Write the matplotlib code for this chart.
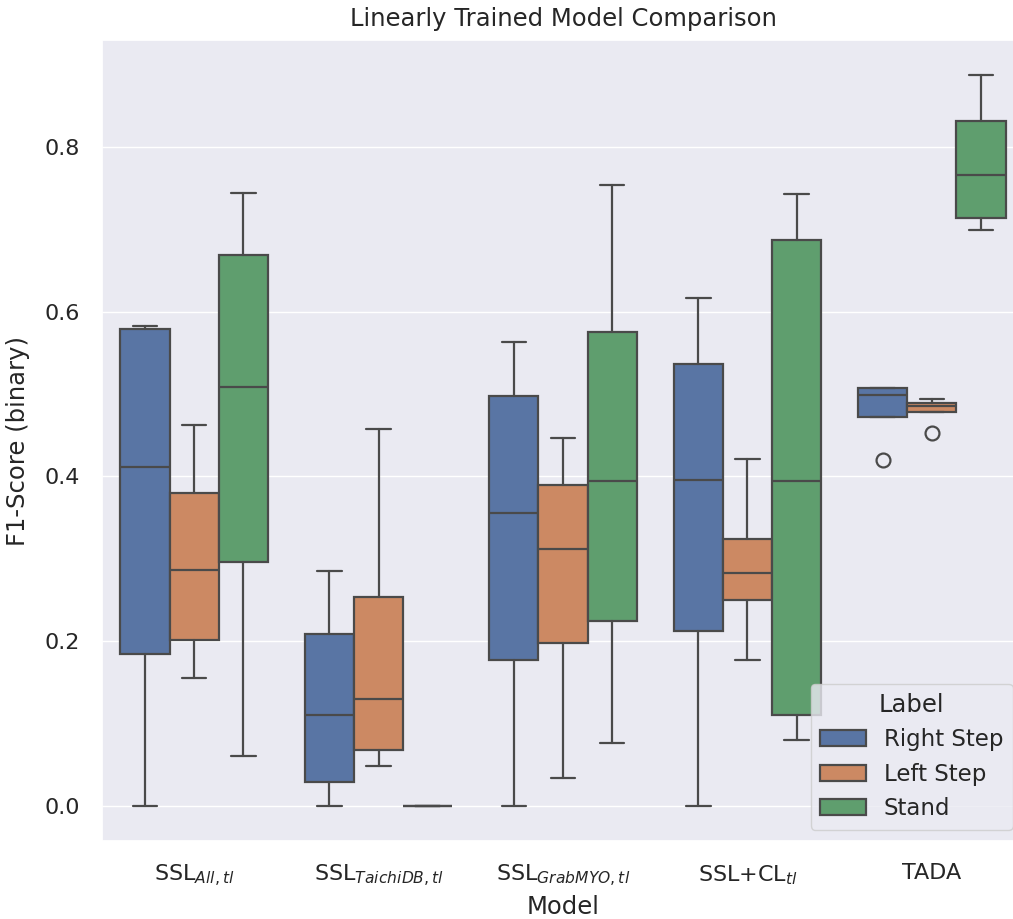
import matplotlib
matplotlib.use("Agg")
import matplotlib.pyplot as plt
import seaborn as sns
from matplotlib.patches import Patch

sns.set_theme(style="darkgrid")
plt.rcParams["font.family"] = ["DejaVu Sans"]

models = [r"SSL$_{All,tl}$", r"SSL$_{TaichiDB,tl}$", r"SSL$_{GrabMYO,tl}$",
          r"SSL+CL$_{tl}$", "TADA"]
labels = ["Right Step", "Left Step", "Stand"]

# Five-number summaries per model, one list per label
right_whislo = [0.000, 0.000, 0.000, 0.000, 0.4725]
right_q1     = [0.184, 0.029, 0.177, 0.212, 0.4725]
right_med    = [0.412, 0.111, 0.356, 0.396, 0.4988]
right_q3     = [0.579, 0.209, 0.498, 0.536, 0.5069]
right_whishi = [0.582, 0.285, 0.563, 0.617, 0.5069]
right_fliers = [[], [], [], [], [0.420]]

left_whislo = [0.155, 0.049, 0.034, 0.177, 0.4778]
left_q1     = [0.202, 0.068, 0.198, 0.250, 0.4778]
left_med    = [0.286, 0.130, 0.312, 0.283, 0.4850]
left_q3     = [0.380, 0.254, 0.390, 0.324, 0.4887]
left_whishi = [0.462, 0.458, 0.446, 0.421, 0.4939]
left_fliers = [[], [], [], [], [0.453]]

stand_whislo = [0.061, 0.0, 0.076, 0.080, 0.699]
stand_q1     = [0.296, 0.0, 0.225, 0.110, 0.714]
stand_med    = [0.509, 0.0, 0.395, 0.394, 0.766]
stand_q3     = [0.669, 0.0, 0.575, 0.687, 0.831]
stand_whishi = [0.744, 0.0, 0.754, 0.743, 0.887]
stand_fliers = [[], [], [], [], []]

series = [
    (right_whislo, right_q1, right_med, right_q3, right_whishi, right_fliers),
    (left_whislo, left_q1, left_med, left_q3, left_whishi, left_fliers),
    (stand_whislo, stand_q1, stand_med, stand_q3, stand_whishi, stand_fliers),
]

palette = [sns.desaturate(c, 0.75) for c in sns.color_palette("deep", 3)]
line_color = "#4a4a4a"
lw = 1.6

W, H = 1013, 919
fig = plt.figure(figsize=(W / 100, H / 100), dpi=100)
left_px, right_px, top_px, bottom_px = 102, 1024, 40, 841
ax = fig.add_axes([left_px / W, 1 - bottom_px / H,
                   (right_px - left_px) / W, (bottom_px - top_px) / H])

box_w = 0.8 / 3
for j, (wlo, q1, med, q3, whi, fl) in enumerate(series):
    stats = []
    for i in range(len(models)):
        stats.append(dict(whislo=wlo[i], q1=q1[i], med=med[i], q3=q3[i],
                          whishi=whi[i], fliers=fl[i]))
    positions = [i + (j - 1) * box_w for i in range(len(models))]
    ax.bxp(stats, positions=positions, widths=box_w, patch_artist=True,
           showfliers=True, capwidths=box_w / 2,
           boxprops=dict(facecolor=palette[j], edgecolor=line_color, linewidth=lw),
           medianprops=dict(color=line_color, linewidth=lw),
           whiskerprops=dict(color=line_color, linewidth=lw),
           capprops=dict(color=line_color, linewidth=lw),
           flierprops=dict(marker="o", markerfacecolor="none",
                           markeredgecolor=line_color, markersize=10,
                           markeredgewidth=lw))

ax.set_xlim(-0.5, len(models) - 0.5)
ax.set_ylim((806 - bottom_px) / 824, (806 - top_px) / 824)
ax.set_xticks(range(len(models)))
ax.set_xticklabels(models, fontsize=16)
ax.set_yticks([0.0, 0.2, 0.4, 0.6, 0.8])
ax.set_yticklabels(["0.0", "0.2", "0.4", "0.6", "0.8"], fontsize=16)
ax.tick_params(axis="x", pad=10)
ax.tick_params(axis="y", pad=10)
ax.grid(axis="x", visible=False)
ax.set_xlabel("Model", fontsize=17.5, labelpad=4)
ax.set_ylabel("F1-Score (binary)", fontsize=17.5, labelpad=10)
ax.set_title("Linearly Trained Model Comparison", fontsize=17.5, pad=10)

handles = [Patch(facecolor=palette[k], edgecolor=line_color, linewidth=lw,
                 label=labels[k]) for k in range(3)]
ax.legend(handles=handles, title="Label", loc="lower right", fontsize=16.5,
          title_fontsize=17.5, frameon=True, labelspacing=0.5)

fig.savefig("out.png", dpi=100)
